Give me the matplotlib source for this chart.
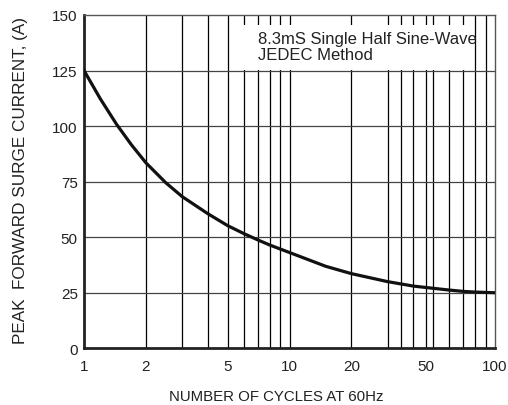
import matplotlib
matplotlib.use("Agg")
import matplotlib.pyplot as plt
from matplotlib.patches import Rectangle

# Dados
ciclos = [1, 1.2, 1.44, 1.7, 2, 2.5, 3, 4, 5, 6, 7, 8, 9, 10, 15, 20, 30, 40, 50, 60, 70, 80, 100]
corrente = [125, 112.3, 100.8, 91.6, 83.5, 74.5, 68.3, 60.6, 55.2, 51.6, 48.8, 46.5, 44.7, 43.1,
            36.9, 33.6, 30.0, 28.0, 27.0, 26.2, 25.6, 25.3, 25.0]

# Grade e rótulos do eixo x
grade_x = [2, 3, 4, 5, 6, 7, 8, 9, 10, 20, 30, 35, 40, 46, 50, 60, 70, 80, 90]
ticks_x = [1, 2, 5, 10, 20, 46, 100]
rotulos_x = ["1", "2", "5", "10", "20", "50", "100"]
ticks_y = [0, 25, 50, 75, 100, 125, 150]

plt.rcParams["font.family"] = ["Liberation Sans Narrow", "Liberation Sans", "DejaVu Sans"]
fonte_normal = ["Liberation Sans", "DejaVu Sans"]

fig = plt.figure(figsize=(5.08, 4.06), dpi=100)
ax = fig.add_axes([0.1654, 0.1397, 0.8090, 0.8209])

ax.set_xscale("log")
ax.set_xlim(1, 100)
ax.set_ylim(0, 150)

# Grade
for x in grade_x:
    ax.axvline(x, color="black", linewidth=0.9, zorder=0.5)
for y in ticks_y[1:-1]:
    ax.axhline(y, color="#444444", linewidth=0.9, zorder=0.5)

# Caixa de texto branca sobre a grade
ax.add_patch(Rectangle((0.380, 0.835), 0.559, 0.1335, transform=ax.transAxes,
                       facecolor="white", edgecolor="none", zorder=1))
ax.text(0.423, 0.953, "8.3mS Single Half Sine-Wave\nJEDEC Method",
        transform=ax.transAxes, ha="left", va="top", fontsize=12,
        family=fonte_normal, color="#222222", linespacing=1.1, zorder=2)

# Curva
ax.plot(ciclos, corrente, color="#111111", linewidth=2.3, zorder=3)

ax.set_xticks(ticks_x)
ax.set_xticklabels(rotulos_x)
ax.xaxis.set_minor_locator(matplotlib.ticker.NullLocator())
ax.set_yticks(ticks_y)
ax.tick_params(axis="both", length=0, labelsize=11, colors="#222222")
ax.tick_params(axis="x", pad=8)
ax.tick_params(axis="y", pad=4.5)

for lado in ["left", "bottom"]:
    ax.spines[lado].set_linewidth(2.0)
    ax.spines[lado].set_color("#222222")
for lado in ["top", "right"]:
    ax.spines[lado].set_linewidth(1.0)
    ax.spines[lado].set_color("#555555")

fig.text(0.543, 0.0222, "NUMBER OF CYCLES AT 60Hz", ha="center", va="center",
         fontsize=10.8, family=fonte_normal, color="#222222")
fig.text(0.040, 0.556, "PEAK  FORWARD SURGE CURRENT, (A)", rotation=90,
         ha="center", va="center", fontsize=12.3, family=fonte_normal, color="#222222")

fig.savefig("out.png", dpi=100)
